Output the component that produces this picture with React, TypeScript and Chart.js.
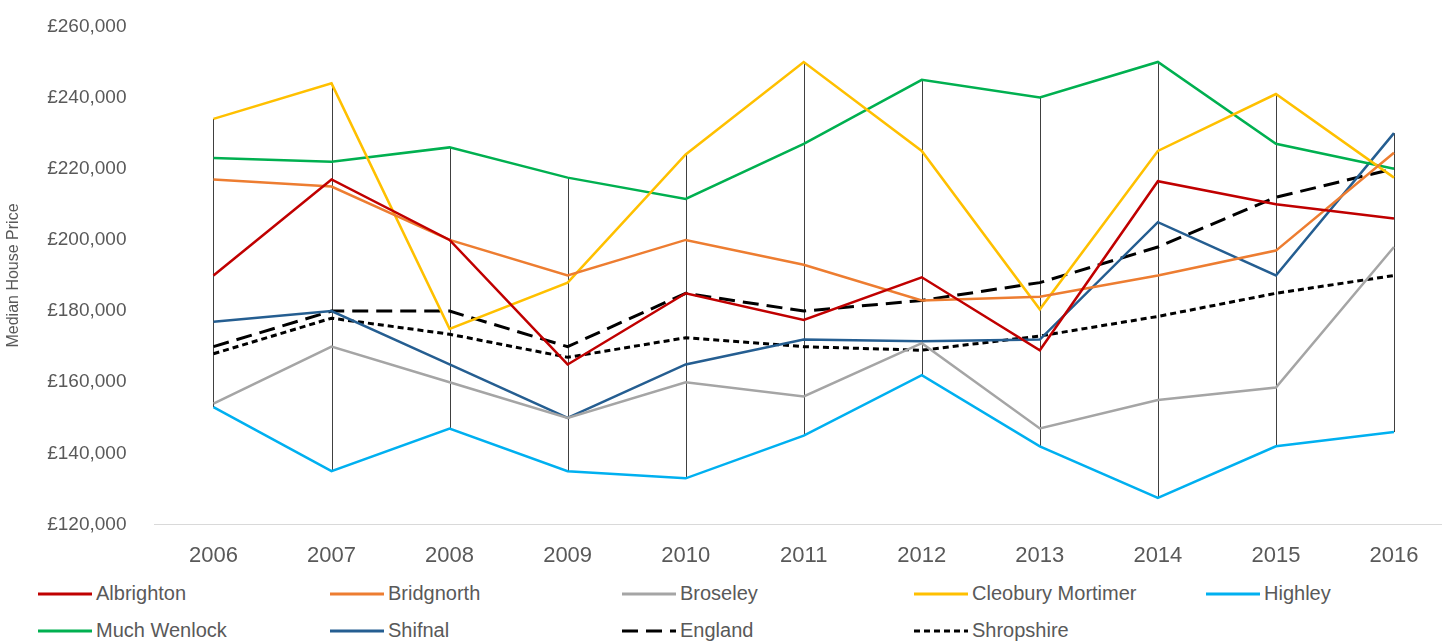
import React, { useEffect, useRef } from "react";
import { Chart, registerables } from "chart.js";

Chart.register(...registerables);

const years = ["2006", "2007", "2008", "2009", "2010", "2011", "2012", "2013", "2014", "2015", "2016"];

const albrighton = [190000, 217000, 200000, 165000, 185000, 177500, 189500, 169000, 216500, 210000, 206000];
const bridgnorth = [217000, 215000, 200000, 190000, 200000, 193000, 183000, 184000, 190000, 197000, 224500];
const broseley = [154000, 170000, 160000, 150000, 160000, 156000, 171000, 147000, 155000, 158500, 198000];
const cleobury = [234000, 244000, 175000, 188000, 224000, 250000, 225000, 180500, 225000, 241000, 217500];
const highley = [153000, 135000, 147000, 135000, 133000, 145000, 162000, 142000, 127500, 142000, 146000];
const muchWenlock = [223000, 222000, 226000, 217500, 211500, 227000, 245000, 240000, 250000, 227000, 220000];
const shifnal = [177000, 180000, 165000, 150000, 165000, 172000, 171500, 172000, 205000, 190000, 230000];
const england = [170000, 180000, 180000, 170000, 185000, 180000, 183000, 188000, 198000, 212000, 220000];
const shropshire = [168000, 178000, 173500, 167000, 172500, 170000, 169000, 173000, 178500, 185000, 190000];

const series = [
  { label: "Albrighton", data: albrighton, color: "#C00000", dash: [] as number[] },
  { label: "Bridgnorth", data: bridgnorth, color: "#ED7D31", dash: [] as number[] },
  { label: "Broseley", data: broseley, color: "#A5A5A5", dash: [] as number[] },
  { label: "Cleobury Mortimer", data: cleobury, color: "#FFC000", dash: [] as number[] },
  { label: "Highley", data: highley, color: "#00B0F0", dash: [] as number[] },
  { label: "Much Wenlock", data: muchWenlock, color: "#00B050", dash: [] as number[] },
  { label: "Shifnal", data: shifnal, color: "#255E91", dash: [] as number[] },
  { label: "England", data: england, color: "#000000", dash: [16, 8] },
  { label: "Shropshire", data: shropshire, color: "#000000", dash: [6, 4] },
];

// vertical high-low lines at each category
const hiLowLines = {
  id: "hiLowLines",
  beforeDatasetsDraw(chart: any) {
    const { ctx, scales } = chart;
    ctx.save();
    ctx.strokeStyle = "#404040";
    ctx.lineWidth = 1;
    years.forEach((_, i) => {
      const vals = series.map((s) => s.data[i]);
      const x = scales.x.getPixelForValue(i);
      ctx.beginPath();
      ctx.moveTo(Math.round(x) + 0.5, scales.y.getPixelForValue(Math.max(...vals)));
      ctx.lineTo(Math.round(x) + 0.5, scales.y.getPixelForValue(Math.min(...vals)));
      ctx.stroke();
    });
    ctx.restore();
  },
};

const App: React.FC = () => {
  const canvasRef = useRef<HTMLCanvasElement>(null);
  const chartRef = useRef<Chart | null>(null);

  useEffect(() => {
    if (!canvasRef.current) return;
    chartRef.current = new Chart(canvasRef.current, {
      type: "line",
      data: {
        labels: years,
        datasets: series.map((s) => ({
          label: s.label,
          data: s.data,
          borderColor: s.color,
          backgroundColor: s.color,
          borderDash: s.dash,
          borderWidth: s.dash.length ? 3 : 2.5,
          pointRadius: 0,
          tension: 0,
        })),
      },
      options: {
        animation: false,
        responsive: false,
        layout: { padding: 0 },
        plugins: { legend: { display: false }, tooltip: { enabled: false } },
        scales: {
          x: {
            offset: true,
            grid: { display: false, drawOnChartArea: false },
            border: { color: "#D9D9D9" },
            ticks: { color: "#595959", font: { family: "Liberation Sans", size: 22 }, padding: 10 },
          },
          y: {
            min: 120000,
            max: 260000,
            grid: { display: false },
            border: { display: false },
            ticks: {
              stepSize: 20000,
              color: "#595959",
              font: { family: "Liberation Sans", size: 19 },
              padding: 20,
              callback: (v: any) => "£" + Number(v).toLocaleString("en-GB"),
            },
            title: {
              display: true,
              text: "Median House Price",
              color: "#595959",
              font: { family: "Liberation Sans", size: 16 },
            },
          },
        },
      },
      plugins: [hiLowLines],
    });
    return () => {
      chartRef.current?.destroy();
      chartRef.current = null;
    };
  }, []);

  return (
    <div style={{ position: "fixed", left: 0, top: 0, width: 1442, height: 641, background: "#fff", overflow: "hidden", fontFamily: "Liberation Sans" }}>
      <canvas ref={canvasRef} width={1453} height={584} style={{ display: "block", marginTop: -5 }}></canvas>
      <div style={{ display: "grid", gridTemplateColumns: "repeat(5, 292px)", rowGap: 14, paddingLeft: 38, marginTop: 3 }}>
        {series.map((s) => (
          <div key={s.label} style={{ display: "flex", alignItems: "center", fontSize: 20, color: "#595959" }}>
            <svg width={54} height={6} style={{ marginRight: 4 }}>
              <line x1={0} y1={3} x2={54} y2={3} stroke={s.color} strokeWidth={3} strokeDasharray={s.dash.join(",")} />
            </svg>
            {s.label}
          </div>
        ))}
      </div>
    </div>
  );
};

export default App;
